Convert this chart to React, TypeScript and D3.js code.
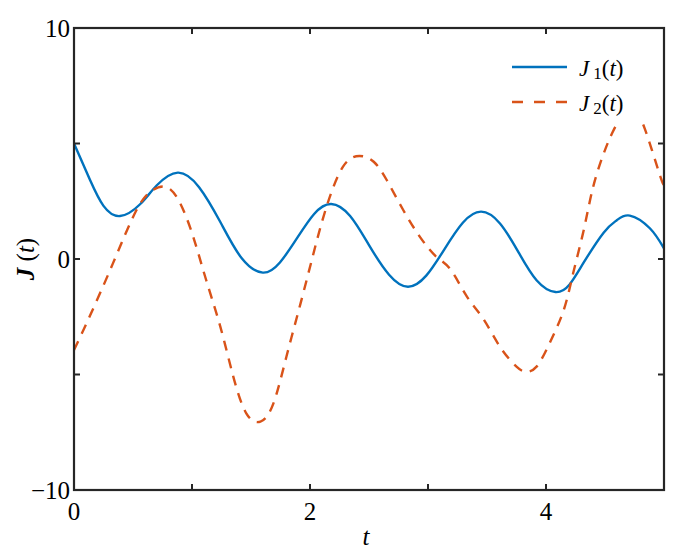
import React from "react";
import * as d3 from "d3";

const W = 700;
const H = 554;
const M = { left: 74, right: 664, top: 28, bottom: 490 };

const tJ1 = [0, 0.136, 0.25, 0.39, 0.56, 0.7, 0.88, 1.06, 1.24, 1.42, 1.6, 1.745, 1.89, 2.035, 2.18, 2.34, 2.5, 2.67, 2.83, 2.985, 3.14, 3.295, 3.45, 3.61, 3.765, 3.92, 4.08, 4.2, 4.32, 4.49, 4.6, 4.71, 4.88, 5.0];
const J1 = [5.0, 3.42, 2.3, 1.86, 2.37, 3.18, 3.74, 3.11, 1.6, 0.04, -0.59, -0.15, 0.9, 1.95, 2.38, 1.86, 0.6, -0.68, -1.2, -0.72, 0.43, 1.57, 2.05, 1.54, 0.31, -0.92, -1.43, -1.1, -0.15, 1.15, 1.68, 1.88, 1.33, 0.46];

const tJ2 = [0, 0.136, 0.33, 0.53, 0.67, 0.79, 0.9, 1.01, 1.12, 1.24, 1.35, 1.46, 1.58, 1.69, 1.8, 1.92, 2.03, 2.14, 2.28, 2.42, 2.54, 2.65, 2.79, 2.93, 3.07, 3.19, 3.33, 3.47, 3.61, 3.75, 3.83, 3.92, 4.03, 4.15, 4.23, 4.32, 4.4, 4.49, 4.56, 4.66, 4.75, 4.84, 4.97, 5.0];
const J2 = [-3.94, -2.45, -0.19, 2.12, 2.99, 3.1, 2.41, 0.97, -0.91, -2.93, -5.09, -6.68, -7.04, -6.25, -4.23, -1.92, 0.25, 2.26, 4.0, 4.46, 4.21, 3.42, 2.12, 0.97, 0.1, -0.45, -1.63, -2.6, -3.8, -4.66, -4.88, -4.66, -3.65, -2.21, -0.62, 1.26, 3.13, 4.58, 5.44, 6.3, 6.4, 5.6, 3.56, 3.3];

const xTicks = [0, 1, 2, 3, 4, 5];
const xTickLabels = ["0", "", "2", "", "4", ""];
const yTicks = [-10, -5, 0, 5, 10];
const yTickLabels = ["\u221210", "", "0", "", "10"];

const BLUE = "#0072BD";
const ORANGE = "#D95319";
const AX = "#262626";
const FONT = "'Liberation Serif', 'Times New Roman', serif";

export default function App() {
  const x = d3.scaleLinear().domain([0, 5]).range([M.left, M.right]);
  const y = d3.scaleLinear().domain([-10, 10]).range([M.bottom, M.top]);
  const line = d3
    .line<[number, number]>()
    .x((d) => x(d[0]))
    .y((d) => y(d[1]))
    .curve(d3.curveNatural);
  const d1 = line(tJ1.map((t, i) => [t, J1[i]]) as [number, number][]) || "";
  const d2 = line(tJ2.map((t, i) => [t, J2[i]]) as [number, number][]) || "";
  const tick = 6;

  return (
    <svg
      width={W}
      height={H}
      style={{ position: "absolute", left: 0, top: 0, background: "#fff" }}
      fontFamily={FONT}
    >
      <rect x={0} y={0} width={W} height={H} fill="#fff" />
      <defs>
        <clipPath id="plotclip">
          <rect x={M.left} y={M.top} width={M.right - M.left} height={M.bottom - M.top} />
        </clipPath>
      </defs>
      <g clipPath="url(#plotclip)">
        <path d={d1} fill="none" stroke={BLUE} strokeWidth={2.4} />
        <path d={d2} fill="none" stroke={ORANGE} strokeWidth={2.4} strokeDasharray="10 8" />
      </g>
      {/* legend */}
      <rect x={502} y={44} width={158} height={80} fill="#fff" />
      <line x1={512} x2={567} y1={67} y2={67} stroke={BLUE} strokeWidth={2.4} />
      <line x1={512} x2={567} y1={102} y2={102} stroke={ORANGE} strokeWidth={2.4} strokeDasharray="11 11" />
      <text x={579} y={76} fontSize={23} fill="#000">
        <tspan fontStyle="italic">J</tspan>
        <tspan fontSize={17} dx={4} dy={3}>1</tspan>
        <tspan dy={-3}>(</tspan>
        <tspan fontStyle="italic">t</tspan>
        <tspan>)</tspan>
      </text>
      <text x={579} y={111} fontSize={23} fill="#000">
        <tspan fontStyle="italic">J</tspan>
        <tspan fontSize={17} dx={4} dy={3}>2</tspan>
        <tspan dy={-3}>(</tspan>
        <tspan fontStyle="italic">t</tspan>
        <tspan>)</tspan>
      </text>
      {/* axes frame */}
      <rect
        x={M.left}
        y={M.top}
        width={M.right - M.left}
        height={M.bottom - M.top}
        fill="none"
        stroke={AX}
        strokeWidth={2.2}
      />
      {xTicks.map((t, i) => (
        <g key={"xt" + i}>
          <line x1={x(t)} x2={x(t)} y1={M.bottom} y2={M.bottom - tick} stroke={AX} strokeWidth={2} />
          <line x1={x(t)} x2={x(t)} y1={M.top} y2={M.top + tick} stroke={AX} strokeWidth={2} />
          {xTickLabels[i] && (
            <text x={x(t)} y={520} fontSize={25} textAnchor="middle" fill="#000">
              {xTickLabels[i]}
            </text>
          )}
        </g>
      ))}
      {yTicks.map((v, i) => (
        <g key={"yt" + i}>
          <line x1={M.left} x2={M.left + tick} y1={y(v)} y2={y(v)} stroke={AX} strokeWidth={2} />
          <line x1={M.right} x2={M.right - tick} y1={y(v)} y2={y(v)} stroke={AX} strokeWidth={2} />
          {yTickLabels[i] && (
            <text x={70} y={y(v)} dy="0.35em" fontSize={25} textAnchor="end" fill="#000">
              {yTickLabels[i]}
            </text>
          )}
        </g>
      ))}
      <text x={(M.left + M.right) / 2 - 3} y={545} fontSize={25} fontStyle="italic" textAnchor="middle" fill="#000">
        t
      </text>
      <text transform={`translate(34, ${(M.top + M.bottom) / 2}) rotate(-90)`} fontSize={25} textAnchor="middle" fill="#000">
        <tspan fontStyle="italic" fontWeight="bold">J</tspan>
        <tspan> (</tspan>
        <tspan fontStyle="italic">t</tspan>
        <tspan>)</tspan>
      </text>
    </svg>
  );
}
